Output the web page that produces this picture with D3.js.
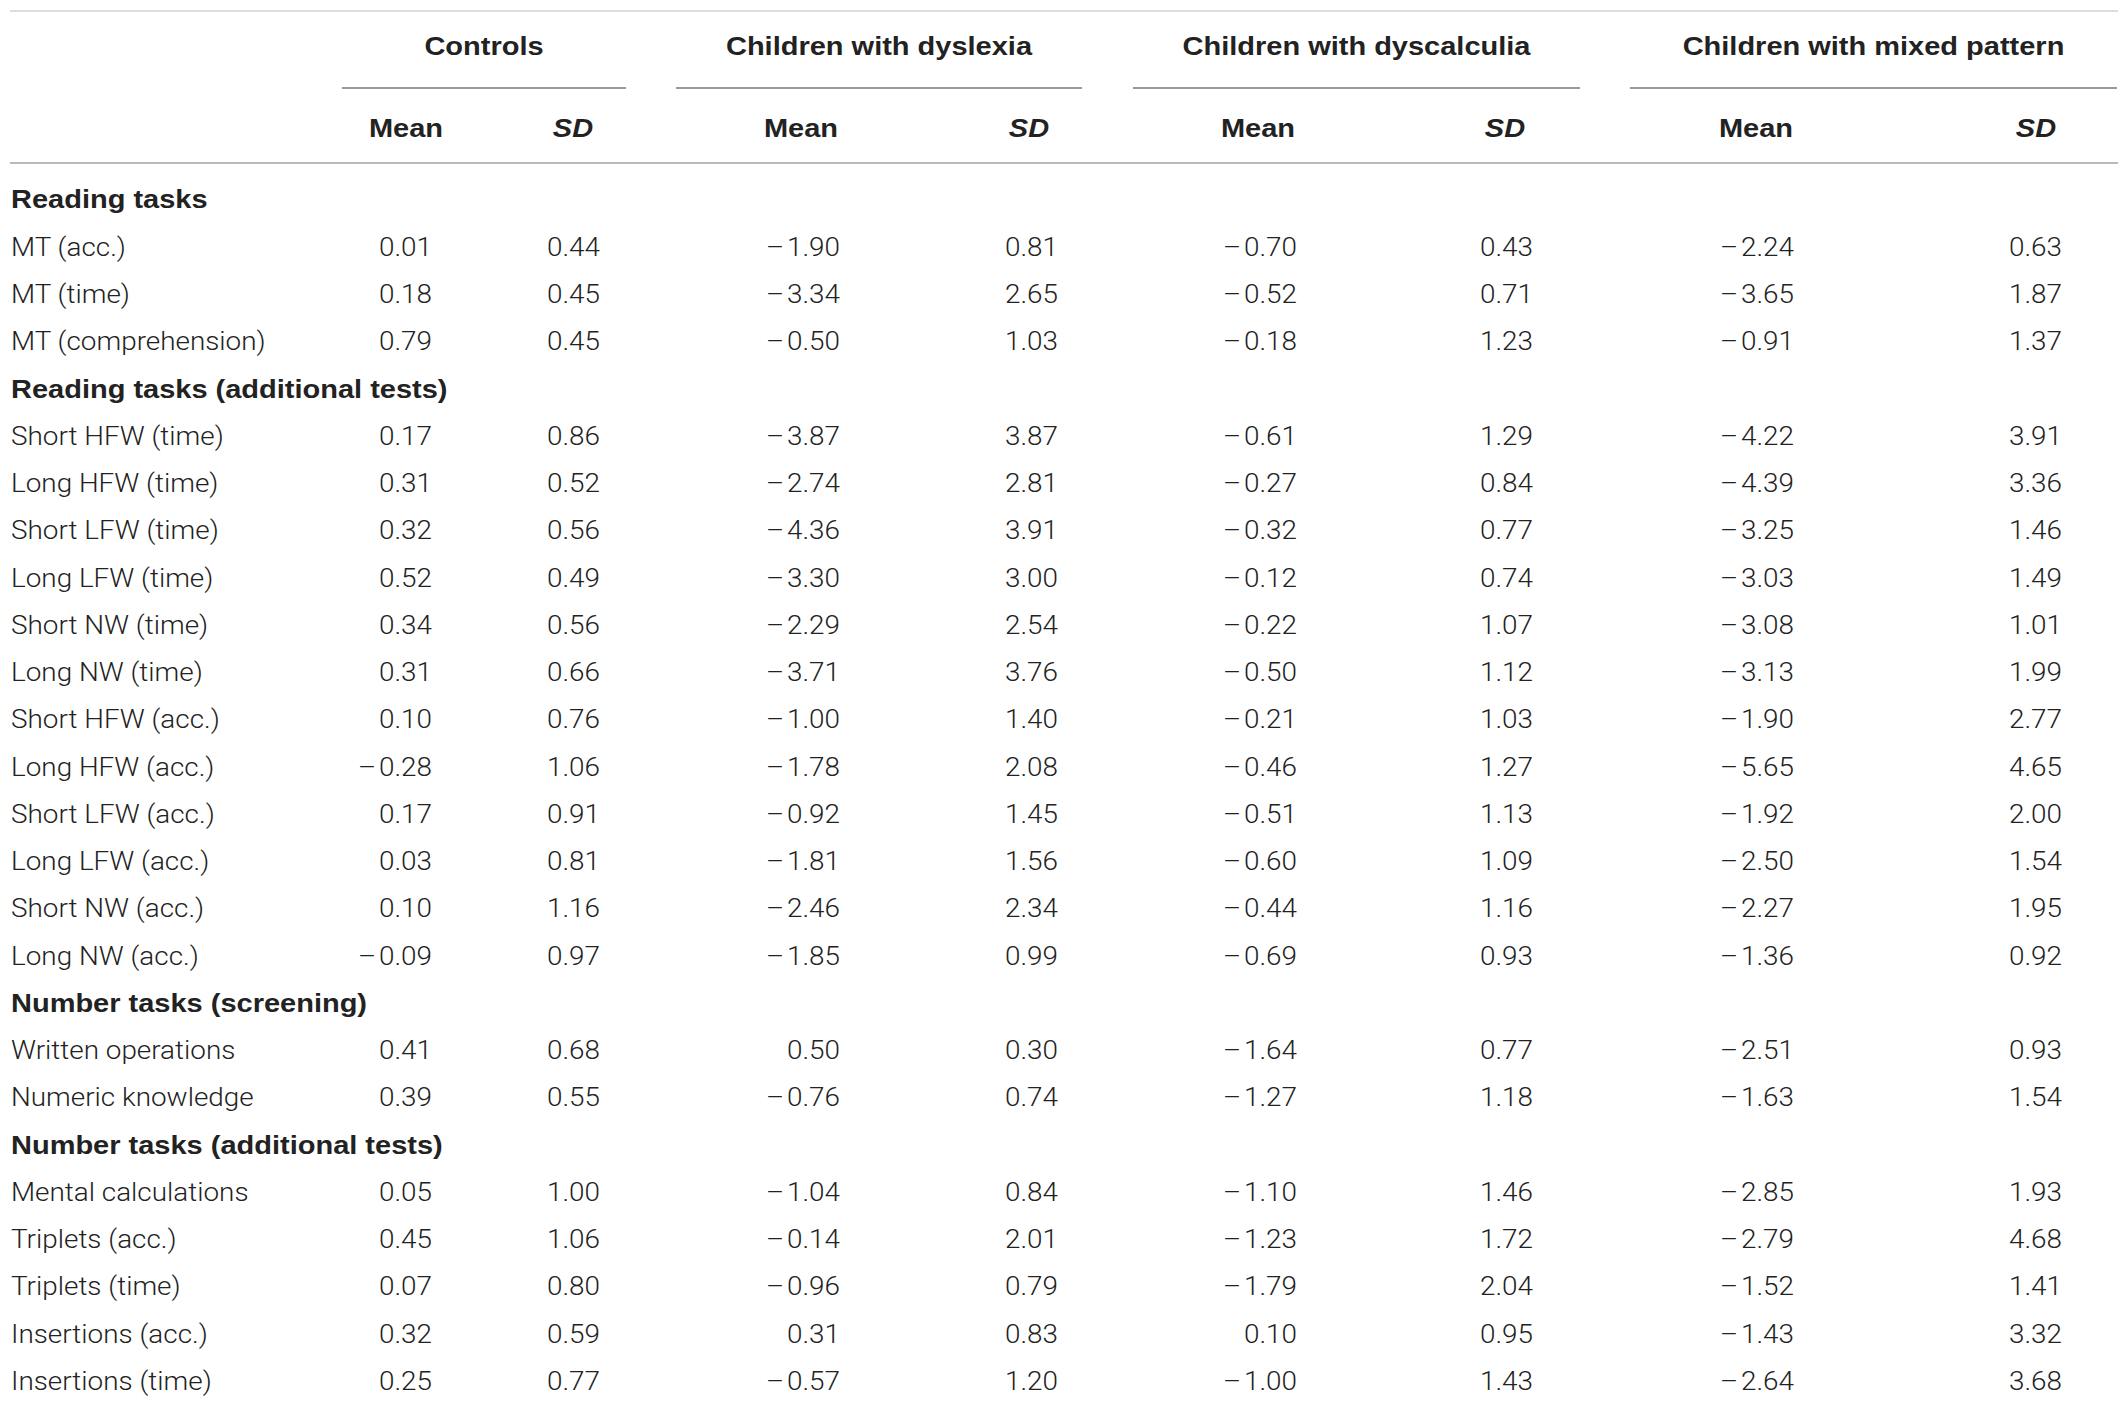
<!DOCTYPE html>
<html>
<head>
<meta charset="utf-8">
<script src="https://cdn.jsdelivr.net/npm/d3@7"></script>
<style>
  body { margin: 0; background: #fff; }
  text { fill: #222; }
  .light { font-family: Roboto, 'Liberation Sans', sans-serif; font-weight: 300; }
  .bold { font-family: 'Liberation Sans', Arial, sans-serif; font-weight: bold; }
</style>
</head>
<body>
<div id="table_chart"></div>
<script>
// row labels, null values mark a section heading row
var rowLabels = [
  'Reading tasks', 'MT (acc.)', 'MT (time)', 'MT (comprehension)',
  'Reading tasks (additional tests)',
  'Short HFW (time)', 'Long HFW (time)', 'Short LFW (time)', 'Long LFW (time)',
  'Short NW (time)', 'Long NW (time)', 'Short HFW (acc.)', 'Long HFW (acc.)',
  'Short LFW (acc.)', 'Long LFW (acc.)', 'Short NW (acc.)', 'Long NW (acc.)',
  'Number tasks (screening)', 'Written operations', 'Numeric knowledge',
  'Number tasks (additional tests)',
  'Mental calculations', 'Triplets (acc.)', 'Triplets (time)', 'Insertions (acc.)', 'Insertions (time)'
];

var groups = ['Controls', 'Children with dyslexia', 'Children with dyscalculia', 'Children with mixed pattern'];
var subHeads = ['Mean', 'SD'];

var controlsMean = [null, 0.01, 0.18, 0.79, null, 0.17, 0.31, 0.32, 0.52, 0.34, 0.31, 0.10, -0.28, 0.17, 0.03, 0.10, -0.09, null, 0.41, 0.39, null, 0.05, 0.45, 0.07, 0.32, 0.25];
var controlsSD = [null, 0.44, 0.45, 0.45, null, 0.86, 0.52, 0.56, 0.49, 0.56, 0.66, 0.76, 1.06, 0.91, 0.81, 1.16, 0.97, null, 0.68, 0.55, null, 1.00, 1.06, 0.80, 0.59, 0.77];
var dyslexiaMean = [null, -1.90, -3.34, -0.50, null, -3.87, -2.74, -4.36, -3.30, -2.29, -3.71, -1.00, -1.78, -0.92, -1.81, -2.46, -1.85, null, 0.50, -0.76, null, -1.04, -0.14, -0.96, 0.31, -0.57];
var dyslexiaSD = [null, 0.81, 2.65, 1.03, null, 3.87, 2.81, 3.91, 3.00, 2.54, 3.76, 1.40, 2.08, 1.45, 1.56, 2.34, 0.99, null, 0.30, 0.74, null, 0.84, 2.01, 0.79, 0.83, 1.20];
var dyscalculiaMean = [null, -0.70, -0.52, -0.18, null, -0.61, -0.27, -0.32, -0.12, -0.22, -0.50, -0.21, -0.46, -0.51, -0.60, -0.44, -0.69, null, -1.64, -1.27, null, -1.10, -1.23, -1.79, 0.10, -1.00];
var dyscalculiaSD = [null, 0.43, 0.71, 1.23, null, 1.29, 0.84, 0.77, 0.74, 1.07, 1.12, 1.03, 1.27, 1.13, 1.09, 1.16, 0.93, null, 0.77, 1.18, null, 1.46, 1.72, 2.04, 0.95, 1.43];
var mixedMean = [null, -2.24, -3.65, -0.91, null, -4.22, -4.39, -3.25, -3.03, -3.08, -3.13, -1.90, -5.65, -1.92, -2.50, -2.27, -1.36, null, -2.51, -1.63, null, -2.85, -2.79, -1.52, -1.43, -2.64];
var mixedSD = [null, 0.63, 1.87, 1.37, null, 3.91, 3.36, 1.46, 1.49, 1.01, 1.99, 2.77, 4.65, 2.00, 1.54, 1.95, 0.92, null, 0.93, 1.54, null, 1.93, 4.68, 1.41, 3.32, 3.68];

var columns = [controlsMean, controlsSD, dyslexiaMean, dyslexiaSD, dyscalculiaMean, dyscalculiaSD, mixedMean, mixedSD];

var fullWidth = 2128;
var fullHeight = 1409;
var fontSize = 25;
// the source face is wider than the installed ones, so text is stretched horizontally
var lightStretch = 1.115;
var boldStretch = 1.16;

var svg = d3.select('#table_chart').append('svg')
  .attr('width', fullWidth)
  .attr('height', fullHeight);

// rows spaced evenly
var rowScale = d3.scalePoint()
  .domain(d3.range(rowLabels.length))
  .range([199.5, 1381]);

// group spans (underline extents) and column positions
var groupScale = d3.scaleOrdinal()
  .domain(groups)
  .range([[342, 626], [676, 1082], [1133, 1580], [1630, 2117]]);
var colCenter = d3.scaleOrdinal()
  .domain(d3.range(8))
  .range([406, 573, 801, 1029, 1258, 1505, 1756, 2036]);
var colRight = d3.scaleOrdinal()
  .domain(d3.range(8))
  .range([432, 600, 840, 1058, 1297, 1533, 1794, 2062]);

var fmt = function(v) {
  return (v < 0 ? '\u2013\u200a' : '') + d3.format('.2f')(Math.abs(v));
};

// place a stretched text: x is given in page units
function stretched(sel, sx, xFn) {
  sel.attr('transform', 'scale(' + sx + ',1)')
    .attr('x', function(d, i) { return xFn(d, i) / sx; });
}

// rules
svg.append('line')
  .attr('x1', 10).attr('x2', 2118)
  .attr('y1', 11).attr('y2', 11)
  .style('stroke', '#dedede').style('stroke-width', 2);
svg.append('line')
  .attr('x1', 10).attr('x2', 2118)
  .attr('y1', 163).attr('y2', 163)
  .style('stroke', '#bababa').style('stroke-width', 2);

var head = svg.append('g').classed('head', true);
head.selectAll('line.group').data(groups).enter()
  .append('line')
    .classed('group', true)
    .attr('x1', function(d) { return groupScale(d)[0]; })
    .attr('x2', function(d) { return groupScale(d)[1]; })
    .attr('y1', 88).attr('y2', 88)
    .style('stroke', '#9a9a9a').style('stroke-width', 2);

head.selectAll('text.group').data(groups).enter()
  .append('text')
    .attr('class', 'group bold')
    .attr('y', 46)
    .attr('dy', '0.36em')
    .style('text-anchor', 'middle')
    .style('font-size', fontSize)
    .text(function(d) { return d; })
    .call(stretched, boldStretch, function(d) { var r = groupScale(d); return (r[0] + r[1]) / 2; });

head.selectAll('text.sub').data(d3.range(8)).enter()
  .append('text')
    .attr('class', 'sub bold')
    .attr('y', 128)
    .attr('dy', '0.36em')
    .style('text-anchor', 'middle')
    .style('font-size', fontSize)
    .style('font-style', function(i) { return i % 2 ? 'italic' : 'normal'; })
    .text(function(i) { return subHeads[i % 2]; })
    .call(stretched, boldStretch, function(i) { return colCenter(i); });

// row labels
var body = svg.append('g').classed('body', true);
body.selectAll('text.label').data(rowLabels).enter()
  .append('text')
    .attr('class', function(d, i) { return 'label ' + (controlsMean[i] === null ? 'bold' : 'light'); })
    .attr('y', function(d, i) { return rowScale(i); })
    .attr('dy', '0.36em')
    .style('font-size', fontSize)
    .text(function(d) { return d; })
    .each(function(d, i) {
      var sx = controlsMean[i] === null ? boldStretch : lightStretch;
      d3.select(this).call(stretched, sx, function() { return 11; });
    });

// value cells
var cells = [];
columns.forEach(function(col, c) {
  col.forEach(function(v, i) {
    if (v !== null) cells.push({col: c, row: i, value: v});
  });
});

body.selectAll('text.cell').data(cells).enter()
  .append('text')
    .attr('class', 'cell light')
    .attr('y', function(d) { return rowScale(d.row); })
    .attr('dy', '0.36em')
    .style('text-anchor', 'end')
    .style('font-size', fontSize)
    .text(function(d) { return fmt(d.value); })
    .call(stretched, lightStretch, function(d) { return colRight(d.col); });
</script>
</body>
</html>
